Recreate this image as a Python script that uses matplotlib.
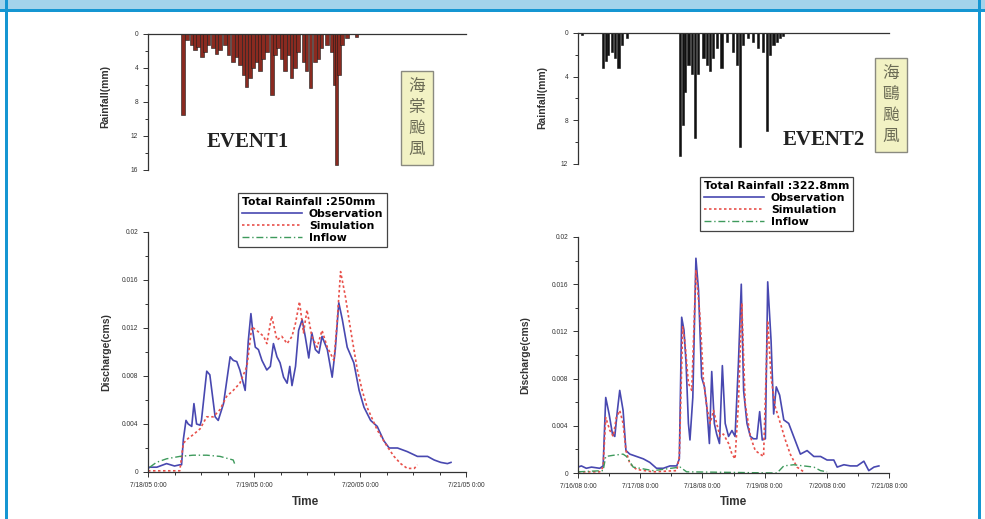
import matplotlib.pyplot as plt
from matplotlib.patches import Rectangle
from matplotlib.ticker import MultipleLocator

W, H = 985, 519

# ---- EVENT 1 ----
rain1_t = [8.0, 8.9, 9.9, 10.6, 11.4, 12.2, 12.9, 13.7, 14.8, 15.5, 16.3, 17.4, 18.2, 19.3,
           20.1, 20.8, 21.6, 22.3, 23.1, 23.8, 24.6, 25.4, 26.1, 26.9, 28.0, 28.8, 29.5, 30.3,
           31.0, 31.8, 32.5, 33.3, 34.0, 35.2, 35.9, 36.8, 37.8, 38.6, 39.3, 40.5, 41.6, 42.3,
           42.7, 43.3, 43.9, 45.0, 47.2]
rain1_mm = [9.5, 0.7, 1.3, 1.9, 1.5, 2.7, 2.1, 1.3, 1.7, 2.3, 1.9, 1.3, 2.5, 3.3,
            2.7, 3.6, 4.8, 6.2, 5.2, 4.0, 3.3, 4.4, 2.9, 2.1, 7.2, 2.5, 1.7, 2.9,
            4.4, 2.5, 5.2, 4.0, 2.1, 3.3, 4.4, 6.4, 3.3, 2.9, 1.7, 1.3, 2.1, 6.0,
            15.4, 4.8, 1.3, 0.5, 0.3]

obs1_t = [0, 0.4, 2, 4.2, 6, 7.2, 7.6, 8.0, 8.6, 9.1, 9.9, 10.4, 11.0, 11.8, 12.1, 13.3, 14.0,
          15.2, 15.9, 17.1, 18.6, 19.3, 20.1, 20.8, 22.0, 22.7, 23.3, 23.7, 24.3, 25.0, 25.8,
          26.9, 27.7, 28.4, 29.2, 29.9, 30.7, 31.5, 32.1, 32.6, 33.4, 34.1, 34.9, 35.6, 36.4,
          37.1, 37.9, 38.7, 39.4, 40.6, 41.7, 42.4, 43.2, 44.0, 45.1, 46.6, 47.8, 48.9, 50.4,
          51.9, 53.4, 54.6, 56.5, 58.7, 61.0, 63.3, 64.8, 66.3, 67.8, 68.6]
obs1_q = [0.0003, 0.0004, 0.0004, 0.0007, 0.0005, 0.0006, 0.0006, 0.0027, 0.0043, 0.0040,
          0.0038, 0.0057, 0.0040, 0.0039, 0.0043, 0.0084, 0.0081, 0.0046, 0.0043, 0.0057,
          0.0096, 0.0093, 0.0092, 0.0085, 0.0068, 0.0109, 0.0132, 0.0118, 0.0104, 0.0102,
          0.0093, 0.0085, 0.0088, 0.0107, 0.0096, 0.0091, 0.0079, 0.0074, 0.0088, 0.0072,
          0.0088, 0.0118, 0.0127, 0.0113, 0.0095, 0.0116, 0.0102, 0.0099, 0.0113, 0.0102,
          0.0079, 0.0102, 0.0141, 0.0127, 0.0104, 0.0091, 0.0068, 0.0054, 0.0043, 0.0038,
          0.0026, 0.0020, 0.0020, 0.0017, 0.0013, 0.0013, 0.0010, 0.0008, 0.0007, 0.0008]

sim1_t = [0, 7.2, 8.0, 9.1, 10.2, 11.8, 13.3, 14.8, 16.3, 17.8, 19.3, 20.8, 22.4, 23.5, 24.6,
          26.2, 26.9, 28.0, 29.2, 30.3, 31.5, 32.6, 33.4, 34.3, 35.2, 36.0, 37.1, 38.3, 39.4,
          40.6, 42.1, 42.8, 43.6, 44.7, 45.9, 47.4, 48.5, 49.6, 51.9, 54.2, 55.7, 57.2, 58.7,
          60.3, 61.0]
sim1_q = [0.0001, 0.0001, 0.0024, 0.0028, 0.0031, 0.0036, 0.0046, 0.0046, 0.0052, 0.0063,
          0.0068, 0.0074, 0.0088, 0.0121, 0.0118, 0.0113, 0.0107, 0.0130, 0.0110, 0.0113,
          0.0107, 0.0113, 0.0124, 0.0142, 0.0116, 0.0135, 0.0113, 0.0104, 0.0118, 0.0104,
          0.0093, 0.0124, 0.0167, 0.0146, 0.0118, 0.0085, 0.0068, 0.0054, 0.0035, 0.0021,
          0.0013, 0.0007, 0.0003, 0.0003, 0.0006]

inf1_t = [0.4, 1.9, 4.2, 7.2, 10.2, 13.3, 16.3, 19.3, 19.7]
inf1_q = [0.0004, 0.0008, 0.0011, 0.0013, 0.0014, 0.0014, 0.0013, 0.0010, 0.0006]

ticks1 = [0, 24, 48, 72]
labels1 = ["7/18/05 0:00", "7/19/05 0:00", "7/20/05 0:00", "7/21/05 0:00"]

# ---- EVENT 2 ----
rain2_t = [1.4, 9.8, 10.7, 11.7, 13.0, 14.3, 15.6, 16.9, 18.8, 39.4, 40.4, 41.3, 42.6, 43.9,
           45.2, 46.4, 48.4, 49.7, 50.9, 52.2, 53.5, 55.4, 57.4, 59.9, 61.2, 62.5, 63.8, 65.7,
           67.6, 69.6, 71.3, 72.8, 74.1, 75.4, 76.7, 78.0, 79.2]
rain2_mm = [0.2, 3.2, 2.6, 2.0, 1.7, 2.3, 3.2, 1.1, 0.5, 11.3, 8.4, 5.4, 2.9, 3.8,
            9.6, 3.8, 2.3, 2.9, 3.5, 2.3, 1.4, 3.2, 0.8, 1.7, 2.9, 10.4, 1.1, 0.5,
            0.8, 1.4, 1.7, 9.0, 2.0, 1.1, 0.8, 0.5, 0.3]

obs2_t = [0, 1.3, 3.2, 5.2, 8.4, 9.7, 10.7, 12.0, 13.3, 14.2, 15.2, 16.1, 17.4, 18.5, 20.0,
          22.6, 25.2, 27.7, 30.3, 32.9, 35.5, 38.1, 39.1, 40.0, 40.9, 41.7, 42.6, 43.2, 44.3,
          45.5, 46.5, 47.7, 48.8, 49.7, 50.7, 51.6, 52.6, 53.5, 54.6, 55.7, 56.8, 58.1, 59.4,
          60.6, 61.9, 63.0, 63.9, 65.2, 66.5, 67.7, 69.0, 70.1, 71.1, 72.3, 73.2, 74.5, 75.5,
          76.5, 77.8, 79.4, 81.3, 83.2, 85.8, 88.4, 91.0, 93.6, 96.1, 98.7, 100.0, 102.6,
          105.1, 107.7, 110.3, 112.2, 114.2, 116.1]
obs2_q = [0.0005, 0.0006, 0.0004, 0.0005, 0.0004, 0.0006, 0.0064, 0.0050, 0.0033, 0.0031,
          0.0053, 0.0070, 0.0053, 0.0019, 0.0016, 0.0014, 0.0012, 0.0009, 0.0004, 0.0004,
          0.0006, 0.0006, 0.0012, 0.0132, 0.0121, 0.0093, 0.0042, 0.0028, 0.0064, 0.0182,
          0.0155, 0.0081, 0.0073, 0.0056, 0.0025, 0.0086, 0.0042, 0.0033, 0.0025, 0.0091,
          0.0042, 0.0031, 0.0036, 0.0031, 0.0093, 0.0160, 0.0070, 0.0042, 0.0031, 0.0029,
          0.0029, 0.0052, 0.0028, 0.0029, 0.0162, 0.0112, 0.0050, 0.0073, 0.0066, 0.0045,
          0.0042, 0.0031, 0.0016, 0.0019, 0.0014, 0.0014, 0.0011, 0.0011, 0.0005, 0.0007,
          0.0006, 0.0006, 0.0010, 0.0002, 0.0005, 0.0006]

sim2_t = [0, 8.4, 9.7, 10.7, 12.3, 13.6, 14.8, 16.1, 17.4, 18.5, 20.0, 22.6, 29.0, 38.1,
          39.1, 40.4, 41.3, 42.6, 43.9, 45.5, 47.1, 48.4, 49.7, 51.0, 52.3, 53.5, 54.8,
          56.1, 58.1, 59.4, 60.6, 61.9, 63.2, 64.5, 66.5, 68.4, 70.3, 71.6, 73.2, 74.5,
          76.1, 78.1, 80.0, 81.9, 84.5, 87.1]
sim2_q = [0.0001, 0.0001, 0.0005, 0.0047, 0.0036, 0.0031, 0.0047, 0.0053, 0.0042, 0.0019,
          0.0008, 0.0003, 0.0001, 0.0002, 0.0014, 0.0124, 0.0110, 0.0076, 0.0070, 0.0172,
          0.0132, 0.0079, 0.0056, 0.0042, 0.0053, 0.0042, 0.0031, 0.0033, 0.0025, 0.0016,
          0.0012, 0.0059, 0.0144, 0.0059, 0.0031, 0.0019, 0.0016, 0.0014, 0.0129, 0.0081,
          0.0056, 0.0042, 0.0028, 0.0016, 0.0005, 0.0001]

inf2_t = [0, 9.7, 10.7, 13.6, 17.4, 18.7, 21.3, 29.0, 39.4, 41.9, 76.8, 79.4, 83.2, 87.1,
          91.0, 93.6, 96.1]
inf2_q = [0.0001, 0.0002, 0.0014, 0.0015, 0.0016, 0.0014, 0.0005, 0.0002, 0.0005, 0.0001,
          0.0, 0.0006, 0.0007, 0.0006, 0.0005, 0.0002, 0.0001]

ticks2 = [0, 24, 48, 72, 96, 120]
labels2 = ["7/16/08 0:00", "7/17/08 0:00", "7/18/08 0:00", "7/19/08 0:00",
           "7/20/08 0:00", "7/21/08 0:00"]

q_ticks = [0, 0.004, 0.008, 0.012, 0.016, 0.02]
q_labels = ["0", "0.004", "0.008", "0.012", "0.016", "0.02"]

plt.rcParams['font.family'] = ['Liberation Sans', 'DejaVu Sans']

fig = plt.figure(figsize=(W / 100, H / 100), dpi=100)


def box(x0, y0, x1, y1):
    return [x0 / W, 1 - y1 / H, (x1 - x0) / W, (y1 - y0) / H]


# page frame
fig.patches.append(Rectangle((0, 1 - 9 / H), 1, 9 / H, transform=fig.transFigure,
                             facecolor='#a3d3eb', edgecolor='none'))
fig.patches.append(Rectangle((0, 1 - 11.5 / H), 1, 2.5 / H, transform=fig.transFigure,
                             facecolor='#1596d2', edgecolor='none'))
fig.patches.append(Rectangle((5 / W, 0), 2.5 / W, 1, transform=fig.transFigure,
                             facecolor='#1596d2', edgecolor='none'))
fig.patches.append(Rectangle((978 / W, 0), 2.5 / W, 1, transform=fig.transFigure,
                             facecolor='#1596d2', edgecolor='none'))


def style(ax):
    ax.tick_params(which='both', direction='out', labelsize=4.8, colors='#333333', width=0.7)
    ax.tick_params(which='major', length=3.5)
    ax.tick_params(which='minor', length=2)
    for s in ax.spines.values():
        s.set_color('#333333')
        s.set_linewidth(0.9)


def rain_panel(rect, t, r, ymax, xmax, fc, ec):
    ax = fig.add_axes(rect)
    ax.bar(t, r, width=0.85, color=fc, edgecolor=ec, linewidth=0.4)
    ax.set_xlim(0, xmax)
    ax.set_ylim(ymax, 0)
    ax.spines['right'].set_visible(False)
    ax.spines['bottom'].set_visible(False)
    ax.set_xticks([])
    ax.set_yticks(list(range(0, ymax + 1, 4)))
    ax.yaxis.set_minor_locator(MultipleLocator(2))
    style(ax)
    return ax


def flow_panel(rect, xmax, ticks, labels, minor, ob, sm, inf):
    ax = fig.add_axes(rect)
    ax.plot(ob[0], ob[1], color='#4848b0', lw=1.2)
    ax.plot(sm[0], sm[1], color='#e8504a', lw=1.2, ls=(0, (1.5, 1.5)))
    ax.plot(inf[0], inf[1], color='#3e9a5c', lw=1.0, ls=(0, (5, 2, 1, 2)))
    ax.set_xlim(0, xmax)
    ax.set_ylim(0, 0.02)
    ax.spines['right'].set_visible(False)
    ax.spines['top'].set_visible(False)
    ax.set_xticks(ticks)
    ax.set_xticklabels(labels)
    ax.xaxis.set_minor_locator(MultipleLocator(minor))
    ax.set_yticks(q_ticks)
    ax.set_yticklabels(q_labels)
    ax.yaxis.set_minor_locator(MultipleLocator(0.002))
    style(ax)
    return ax


rain_panel(box(148, 34, 466, 170), rain1_t, rain1_mm, 16, 72, '#8a2a20', '#1a1a1a')
rain_panel(box(578, 33, 889, 164), rain2_t, rain2_mm, 12, 120, '#111111', '#111111')
flow_panel(box(148, 232, 466, 472), 72, ticks1, labels1, 6,
           (obs1_t, obs1_q), (sim1_t, sim1_q), (inf1_t, inf1_q))
flow_panel(box(578, 237, 889, 473), 120, ticks2, labels2, 12,
           (obs2_t, obs2_q), (sim2_t, sim2_q), (inf2_t, inf2_q))

# legends
handles = [plt.Line2D([], [], color='#4848b0', lw=1.2),
           plt.Line2D([], [], color='#e8504a', lw=1.2, ls=(0, (1.5, 1.5))),
           plt.Line2D([], [], color='#3e9a5c', lw=1.0, ls=(0, (5, 2, 1, 2)))]
names = ['Observation', 'Simulation', 'Inflow']
for (x0, y0, title) in [(238, 193, 'Total Rainfall :250mm'), (700, 177, 'Total Rainfall :322.8mm')]:
    leg = fig.legend(handles, names, title=title, loc='upper left',
                     bbox_to_anchor=(x0 / W, 1 - y0 / H), borderaxespad=0,
                     fancybox=False, edgecolor='#444444', framealpha=1,
                     prop={'weight': 'bold', 'size': 7.8, 'family': 'DejaVu Sans'},
                     handlelength=5.6, handletextpad=0.6, labelspacing=0.2,
                     borderpad=0.35, alignment='left')
    leg.get_title().set_fontweight('bold')
    leg.get_title().set_fontsize(7.8)
    leg.get_title().set_family('DejaVu Sans')
    leg.get_frame().set_linewidth(0.9)

# labels
for x, y in [(105, 97), (542, 98)]:
    fig.text(x / W, 1 - y / H, 'Rainfall(mm)', rotation=90, ha='center', va='center',
             fontsize=7.5, fontweight='bold', color='#333333')
for x, y in [(106, 352), (525, 355)]:
    fig.text(x / W, 1 - y / H, 'Discharge(cms)', rotation=90, ha='center', va='center',
             fontsize=7.5, fontweight='bold', color='#333333')
for x, y in [(305, 502), (733, 502)]:
    fig.text(x / W, 1 - y / H, 'Time', ha='center', va='center',
             fontsize=8.5, fontweight='bold', color='#333333')

for x, y, s in [(248, 142, 'EVENT1'), (824, 140, 'EVENT2')]:
    fig.text(x / W, 1 - y / H, s, ha='center', va='center', fontsize=15,
             fontweight='bold', family='Liberation Serif', color='#222222')

for x, y, s in [(417, 118, '海\n棠\n颱\n風'), (891, 105, '海\n鷗\n颱\n風')]:
    fig.text(x / W, 1 - y / H, s, ha='center', va='center', fontsize=12,
             family=['Noto Sans CJK TC', 'DejaVu Sans'], color='#6b6b55', linespacing=1.3,
             bbox=dict(boxstyle='square,pad=0.45', facecolor='#f2f2c4', edgecolor='#8a8a80',
                       linewidth=1.0))

fig.savefig('out.png', dpi=100)
